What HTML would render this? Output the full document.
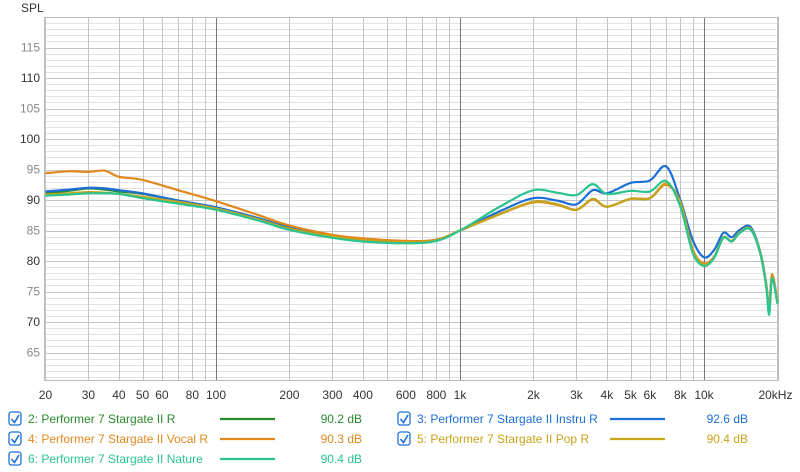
<!DOCTYPE html>
<html><head><meta charset="utf-8"><style>
html,body{margin:0;padding:0;background:#fff;}
svg{display:block;font-family:"Liberation Sans",sans-serif;}
</style></head><body>
<svg id="chart" width="800" height="472" viewBox="0 0 800 472" xmlns="http://www.w3.org/2000/svg">
<g id="grid"></g>
<g id="series"></g>
<g id="axes"></g>
<g id="legend"></g>
</svg>
<script>
const freqs=[20,25,30,35,40,50,70,100,150,200,300,400,600,800,1000,1500,2000,2500,3000,3500,4000,5000,6000,7000,8000,9000,10000,11000,12000,13000,14000,15500,17000,18000,18500,19000,20000];
const splR=[91.1,91.5,91.9,91.7,91.4,91.0,89.9,88.7,86.9,85.4,84.1,83.5,83.1,83.4,85,87.9,89.7,89.3,88.4,90.1,88.9,90.2,90.3,92.6,89.5,81.8,79.5,80.6,83.8,83.2,84.6,85.2,81.3,75.8,71.5,77.4,73.1];
const splInstru=[91.4,91.7,92.0,91.9,91.6,91.1,89.9,88.8,87.0,85.5,84.2,83.6,83.2,83.5,85,88.4,90.3,89.9,89.3,91.6,91.1,92.8,93.2,95.5,90.0,83.4,80.6,81.8,84.6,83.9,85.1,85.6,81.5,76,72,77.6,73.3];
const splVocal=[94.4,94.7,94.6,94.8,93.8,93.3,91.6,89.8,87.5,85.8,84.3,83.7,83.3,83.5,85,87.9,89.6,89.2,88.4,90.1,88.9,90.2,90.3,92.5,89.5,81.9,79.6,80.7,83.8,83.3,84.7,85.3,81.5,76.2,72.0,77.8,73.5];
const splPop=[90.9,91.1,91.3,91.2,91.0,90.5,89.7,88.6,86.8,85.3,84.0,83.4,83.1,83.4,85,87.9,89.7,89.3,88.4,90.2,88.9,90.2,90.3,92.7,89.6,81.8,79.4,80.6,83.9,83.2,84.7,85.3,81.3,75.9,71.5,77.4,73.1];
const splNature=[90.7,90.9,91.1,91.1,91.0,90.3,89.4,88.4,86.6,85.1,83.8,83.2,82.9,83.3,85,89.2,91.6,91.2,90.8,92.6,91.0,91.5,91.4,93.1,88.9,81.3,79.2,80.5,83.8,83.2,84.6,85.2,81.3,75.8,71.2,77.2,73.0];
const seriesNames=["2: Performer 7 Stargate II R","3: Performer 7 Stargate II Instru R","4: Performer 7 Stargate II Vocal R","5: Performer 7 Stargate II Pop R","6: Performer 7 Stargate II Nature"];
const seriesDb=["90.2 dB","92.6 dB","90.3 dB","90.4 dB","90.4 dB"];
const yTicks=[65,70,75,80,85,90,95,100,105,110,115];
const xTickVals=[20,30,40,50,60,80,100,200,300,400,600,800,1000,2000,3000,4000,5000,6000,8000,10000,20000];
const xTickLabels=["20","30","40","50","60","80","100","200","300","400","600","800","1k","2k","3k","4k","5k","6k","8k","10k","20kHz"];

const NS="http://www.w3.org/2000/svg";
const L=44,R=778,T=17,B=380;
const x=f=>216+244*Math.log10(f/100);
const y=v=>200-(v-90)*6.1;
function mk(tag,attrs,parent){const e=document.createElementNS(NS,tag);for(const k in attrs)e.setAttribute(k,attrs[k]);parent.appendChild(e);return e;}
const grid=document.getElementById('grid'),axes=document.getElementById('axes'),ser=document.getElementById('series'),leg=document.getElementById('legend');

// horizontal grid (1 dB)
for(let v=61;v<=120;v++){const yy=Math.round(y(v))+0.5;if(yy<T||yy>B)continue;
 const ln=mk('line',{x1:L,x2:R,y1:yy,y2:yy,stroke:v%5===0?'#c4c4c4':'#e2e2e2','stroke-width':1},grid);
 
 }
// vertical grid
const vg=[20,30,40,50,60,70,80,90,100,200,300,400,500,600,700,800,900,1000,2000,3000,4000,5000,6000,7000,8000,9000,10000,20000];
vg.forEach(f=>{const xx=Math.round(x(f))+0.5;const major=(f===100||f===1000||f===10000);
 const ln=mk('line',{x1:xx,x2:xx,y1:T,y2:B,stroke:major?'#777':'#c4c4c4','stroke-width':1},grid);
 
 });
const fr=mk('rect',{x:L+0.5,y:T+0.5,width:R-L,height:B-T,fill:'none',stroke:'#bbb'},grid);



// y labels
const sp=mk('text',{x:21,y:12,'font-size':12,fill:'#333'},axes);sp.textContent='SPL';


yTicks.forEach(v=>{const t=mk('text',{x:40,y:y(v)+4,'font-size':12,'text-anchor':'end',fill:(v%10===0)?'#333':'#888'},axes);t.textContent=v;
 
 });
xTickVals.forEach((f,i)=>{const t=mk('text',{x:x(f),y:399,'font-size':12,'text-anchor':i===xTickVals.length-1?'middle':'middle',fill:'#333'},axes);
 if(i===xTickVals.length-1)t.setAttribute('x',x(f)-2);
 t.textContent=xTickLabels[i];
 
 });

// curves: Catmull-Rom in pixel space
function pathFor(vals){const p=freqs.map((f,i)=>[x(f),y(vals[i])]);let d='M'+p[0][0].toFixed(1)+','+p[0][1].toFixed(1);
 for(let i=0;i<p.length-1;i++){const p0=p[Math.max(0,i-1)],p1=p[i],p2=p[i+1],p3=p[Math.min(p.length-1,i+2)];
  const c1=[p1[0]+(p2[0]-p0[0])/6,p1[1]+(p2[1]-p0[1])/6],c2=[p2[0]-(p3[0]-p1[0])/6,p2[1]-(p3[1]-p1[1])/6];
  d+=' C'+c1.map(n=>n.toFixed(1))+' '+c2.map(n=>n.toFixed(1))+' '+p2[0].toFixed(1)+','+p2[1].toFixed(1);}
 return d;}
const cols=['#2a8a2e','#1b6fd6','#e0881c','#c9a31a','#2bc48e'];
const data=[splR,splInstru,splVocal,splPop,splNature];
const keys=['curve-r','curve-instru','curve-vocal','curve-pop','curve-nature'];
data.forEach((vals,i)=>{const pth=mk('path',{d:pathFor(vals),fill:'none',stroke:cols[i],'stroke-width':2.2,'stroke-linejoin':'round'},ser);
 
 });

// legend
const pos=[[0,0],[1,0],[0,1],[1,1],[0,2]];
pos.forEach((p,i)=>{const cx=p[0]?398:9,ty=419+p[1]*20;
 const g=mk('g',{},leg);
 
 
 const cb=mk('rect',{x:cx,y:ty-7,width:12,height:13,rx:2.5,fill:'#fff',stroke:'#1b6fd6','stroke-width':1.3},g);
 
 
 mk('path',{d:`M${cx+2.5},${ty} L${cx+5.5},${ty+3.5} L${cx+10},${ty-4}`,fill:'none',stroke:'#1b6fd6','stroke-width':1.6},g);
 const t=mk('text',{x:cx+19,y:ty+4,'font-size':12,fill:cols[i]},g);t.textContent=seriesNames[i];
 
 
 const lx=p[0]?610:220;
 mk('line',{x1:lx,x2:lx+55,y1:ty,y2:ty,stroke:cols[i],'stroke-width':2.2},g);
 const d=mk('text',{x:p[0]?748:362,y:ty+4,'font-size':12,'text-anchor':'end',fill:cols[i]},g);d.textContent=seriesDb[i];
 
 });
</script>
</body></html>
